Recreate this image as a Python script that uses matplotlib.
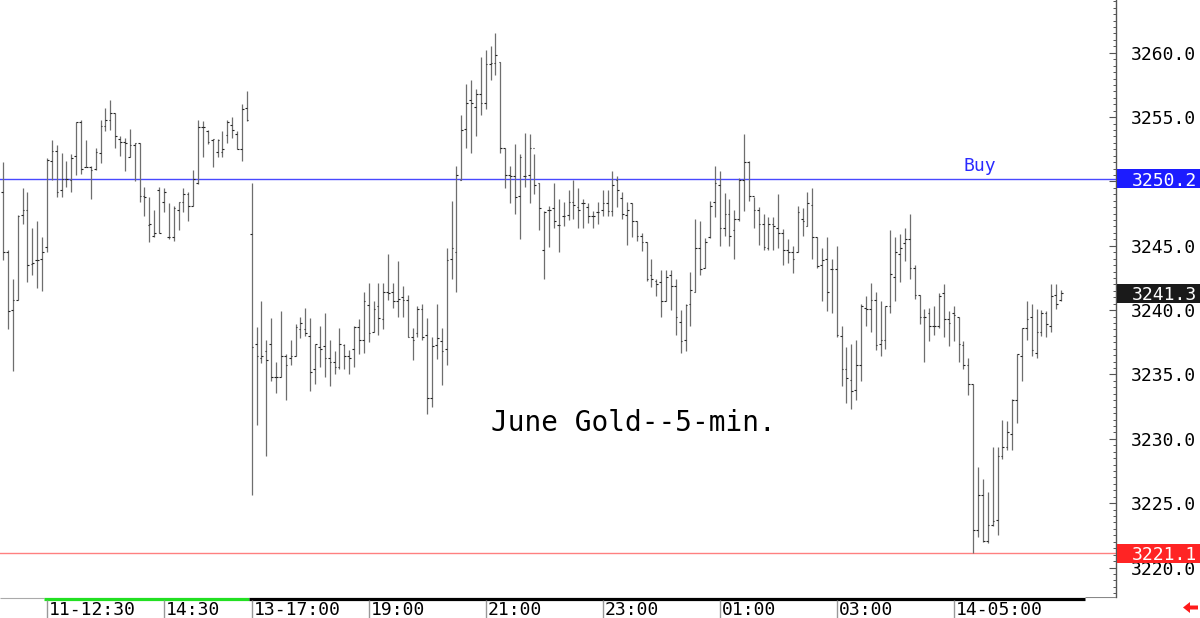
import numpy as np
import pandas as pd
import matplotlib
matplotlib.use("Agg")
import matplotlib.pyplot as plt
from matplotlib import transforms
from matplotlib.patches import Rectangle, Polygon
from matplotlib.ticker import MultipleLocator, FuncFormatter

plt.rcParams['font.family'] = ['DejaVu Sans Mono', 'Liberation Mono']

# 5-min bars: Friday session, then Sunday evening -> Monday morning
times = (list(pd.date_range("2025-04-11 11:45", "2025-04-11 15:55", freq="5min"))
         + list(pd.date_range("2025-04-13 17:00", "2025-04-14 06:50", freq="5min")))

highs = [
    3251.5, 3244.7, 3242.4, 3247.4, 3249.5, 3249.2, 3246.4, 3246.9, 3245.7, 3251.8,
    3253.2, 3252.8, 3252.2, 3251.6, 3252.1, 3254.6, 3254.8, 3253.2, 3251.2, 3252.6,
    3254.8, 3255.7, 3256.3, 3255.3, 3253.5, 3253.4, 3254.1, 3253.0, 3253.0, 3249.6,
    3248.8, 3247.8, 3249.6, 3249.5, 3248.3, 3248.1, 3248.4, 3249.5, 3249.2, 3250.9,
    3254.8, 3254.7, 3254.0, 3253.3, 3253.3, 3253.9, 3254.8, 3255.0, 3253.9, 3256.0,
    3257.0,
    3249.9, 3238.7, 3240.7, 3237.7, 3239.4, 3236.0, 3239.9, 3236.6, 3237.7, 3238.9,
    3239.5, 3240.2, 3239.4, 3237.4, 3238.8, 3239.8, 3237.7, 3236.8, 3238.6, 3237.4,
    3236.9, 3238.8, 3239.3, 3241.4, 3242.1, 3240.7, 3242.1, 3242.1, 3244.4, 3242.1,
    3243.8, 3241.9, 3241.2, 3238.6, 3240.3, 3240.5, 3239.4, 3237.9, 3240.5, 3238.6,
    3244.8, 3248.5, 3251.2, 3255.2, 3257.6, 3257.9, 3257.2, 3259.7, 3260.2, 3260.5,
    3261.5, 3259.3, 3252.6, 3251.2, 3252.9, 3252.1, 3253.8, 3253.7, 3252.1, 3249.9,
    3247.7, 3248.1, 3249.9, 3248.6, 3248.4, 3249.3, 3250.1, 3249.5, 3248.6, 3248.3,
    3247.7, 3248.4, 3249.3, 3249.3, 3250.8, 3250.4, 3249.2, 3248.4, 3248.3, 3246.9,
    3246.0, 3245.3, 3244.0, 3242.4, 3243.1, 3243.1, 3243.1, 3242.4, 3240.0, 3240.5,
    3243.0, 3247.1, 3246.9, 3245.6, 3248.5, 3251.2, 3250.8, 3249.1, 3248.6, 3247.8,
    3250.3, 3253.7, 3251.6, 3248.8, 3248.0, 3247.5, 3247.2, 3247.2, 3249.0, 3246.3,
    3245.5, 3245.0, 3248.1, 3247.9, 3249.2, 3249.5, 3245.7, 3244.8, 3245.7, 3244.0,
    3245.0, 3238.8, 3237.1, 3237.4, 3237.7, 3240.5, 3241.1, 3242.1, 3241.4, 3240.7,
    3240.3, 3246.2, 3245.7, 3245.9, 3246.4, 3247.5, 3243.5, 3241.2, 3240.1, 3240.2,
    3240.3, 3241.3, 3242.0, 3239.9, 3240.3, 3239.5, 3237.6, 3236.3, 3234.3, 3227.8,
    3226.9, 3225.9, 3229.4, 3229.4, 3231.5, 3231.4, 3233.1, 3236.6, 3238.6, 3240.7,
    3240.5, 3240.1, 3240.0, 3239.9, 3242.0, 3242.0, 3241.6,
]
lows = [
    3243.9, 3238.5, 3235.3, 3240.8, 3246.7, 3242.2, 3242.7, 3241.7, 3241.5, 3244.5,
    3250.1, 3248.8, 3248.8, 3249.6, 3249.2, 3250.5, 3250.6, 3251.1, 3248.6, 3250.9,
    3251.4, 3253.9, 3254.0, 3252.6, 3252.0, 3250.8, 3251.9, 3250.0, 3248.4, 3247.3,
    3245.3, 3245.7, 3246.0, 3247.6, 3245.5, 3245.4, 3246.2, 3247.6, 3246.9, 3248.1,
    3249.8, 3251.9, 3252.9, 3251.1, 3251.9, 3251.9, 3253.0, 3253.4, 3252.5, 3251.6,
    3254.7,
    3225.6, 3231.1, 3235.9, 3228.7, 3234.5, 3233.6, 3234.8, 3233.0, 3235.7, 3236.4,
    3237.8, 3238.0, 3233.7, 3234.3, 3235.6, 3234.8, 3234.1, 3235.0, 3235.4, 3235.4,
    3235.0, 3235.6, 3236.6, 3236.7, 3237.5, 3238.3, 3238.1, 3238.5, 3240.8, 3240.2,
    3239.5, 3239.5, 3237.9, 3236.1, 3237.9, 3237.7, 3231.9, 3232.5, 3236.2, 3234.2,
    3235.7, 3242.4, 3241.4, 3250.1, 3252.6, 3252.2, 3253.5, 3255.2, 3255.6, 3257.9,
    3258.3, 3252.2, 3249.5, 3248.3, 3247.5, 3245.5, 3249.6, 3248.3, 3249.0, 3246.2,
    3242.4, 3244.9, 3246.4, 3244.5, 3246.5, 3247.0, 3247.1, 3246.4, 3246.4, 3246.8,
    3246.4, 3246.7, 3247.3, 3247.3, 3247.3, 3248.0, 3247.1, 3245.1, 3245.7, 3245.4,
    3244.6, 3242.3, 3241.8, 3241.1, 3239.5, 3240.7, 3240.0, 3238.1, 3236.7, 3236.8,
    3238.8, 3241.4, 3242.7, 3243.3, 3245.6, 3247.2, 3245.0, 3245.8, 3245.0, 3244.0,
    3246.9, 3247.7, 3248.5, 3246.4, 3245.1, 3244.7, 3244.7, 3244.7, 3244.8, 3243.5,
    3243.7, 3242.9, 3244.5, 3245.8, 3246.5, 3244.0, 3243.3, 3240.7, 3239.9, 3239.8,
    3237.9, 3234.1, 3232.8, 3232.3, 3233.0, 3234.5, 3238.8, 3238.3, 3236.9, 3236.4,
    3237.0, 3239.8, 3240.7, 3242.2, 3243.8, 3242.4, 3240.9, 3238.9, 3236.0, 3237.6,
    3238.1, 3238.6, 3237.9, 3237.2, 3237.6, 3236.0, 3235.4, 3233.4, 3221.1, 3222.4,
    3222.0, 3221.9, 3223.2, 3222.5, 3228.4, 3229.1, 3229.1, 3231.2, 3234.5, 3237.7,
    3236.4, 3236.3, 3238.0, 3237.9, 3238.3, 3240.1, 3240.7,
]
opens = [
    3249.2, 3244.5, 3240.0, 3240.8, 3247.4, 3247.8, 3243.6, 3243.9, 3244.0, 3244.9,
    3251.6, 3252.4, 3249.3, 3250.2, 3250.1, 3252.0, 3254.6, 3251.1, 3251.1, 3251.0,
    3252.2, 3254.3, 3254.8, 3255.3, 3253.3, 3253.1, 3251.9, 3252.8, 3253.0, 3248.9,
    3246.6, 3245.8, 3249.3, 3248.4, 3245.7, 3245.7, 3247.8, 3248.4, 3249.0, 3248.1,
    3249.9, 3254.2, 3253.9, 3253.2, 3252.3, 3252.3, 3253.6, 3254.4, 3253.7, 3252.5,
    3255.7,
    3245.9, 3237.4, 3236.3, 3236.8, 3237.4, 3234.8, 3234.8, 3236.4, 3236.3, 3236.4,
    3238.5, 3238.5, 3238.0, 3235.4, 3237.1, 3237.2, 3236.3, 3236.0, 3235.6, 3237.3,
    3236.4, 3237.0, 3238.7, 3237.7, 3240.4, 3238.3, 3240.3, 3239.3, 3241.4, 3241.4,
    3240.7, 3241.0, 3240.8, 3237.9, 3238.2, 3240.1, 3238.1, 3233.2, 3237.3, 3237.6,
    3237.0, 3244.0, 3244.5, 3250.1, 3254.1, 3256.3, 3255.8, 3256.8, 3256.1, 3259.1,
    3259.2, 3259.3, 3252.6, 3250.5, 3250.4, 3248.9, 3250.4, 3250.5, 3252.6, 3249.9,
    3244.7, 3247.8, 3247.9, 3246.6, 3247.3, 3247.4, 3248.4, 3248.0, 3248.3, 3248.0,
    3247.3, 3247.6, 3247.8, 3248.3, 3247.7, 3250.1, 3248.7, 3247.4, 3248.3, 3246.9,
    3245.8, 3245.3, 3242.7, 3242.3, 3242.2, 3240.7, 3242.7, 3241.9, 3239.1, 3237.7,
    3240.5, 3241.4, 3244.8, 3243.3, 3245.7, 3248.4, 3249.7, 3246.4, 3247.5, 3246.2,
    3247.1, 3250.1, 3251.5, 3248.9, 3247.8, 3246.7, 3244.8, 3246.7, 3246.4, 3246.0,
    3244.7, 3244.5, 3244.5, 3247.1, 3246.5, 3248.2, 3245.7, 3243.5, 3244.0, 3243.2,
    3243.2, 3238.0, 3235.4, 3234.6, 3233.8, 3235.7, 3240.2, 3240.1, 3240.8, 3237.4,
    3237.7, 3240.3, 3242.6, 3244.4, 3245.2, 3245.5, 3243.3, 3241.2, 3239.5, 3239.8,
    3238.8, 3238.8, 3241.3, 3239.3, 3239.8, 3239.5, 3237.3, 3235.7, 3234.3, 3222.9,
    3225.6, 3222.1, 3223.3, 3223.7, 3228.7, 3229.4, 3230.4, 3233.0, 3236.4, 3238.6,
    3239.5, 3236.7, 3238.3, 3239.8, 3238.8, 3241.2, 3240.8,
]
closes = [
    3244.5, 3239.9, 3240.8, 3247.3, 3247.8, 3243.5, 3243.7, 3243.9, 3244.5, 3251.7,
    3252.4, 3249.2, 3250.2, 3250.2, 3251.8, 3254.6, 3251.0, 3251.1, 3250.9, 3252.3,
    3254.3, 3254.8, 3255.3, 3253.5, 3253.1, 3253.0, 3252.8, 3253.0, 3248.9, 3248.8,
    3246.7, 3246.0, 3246.0, 3249.2, 3245.7, 3247.9, 3248.4, 3249.0, 3248.1, 3250.2,
    3254.2, 3254.2, 3253.1, 3253.3, 3253.2, 3252.5, 3254.6, 3254.0, 3252.5, 3255.6,
    3254.8,
    3237.1, 3236.4, 3236.4, 3236.1, 3234.8, 3234.8, 3236.4, 3235.7, 3236.4, 3238.7,
    3239.0, 3238.2, 3235.2, 3237.4, 3237.0, 3236.3, 3236.0, 3235.6, 3237.4, 3236.4,
    3236.3, 3238.7, 3237.7, 3240.7, 3238.2, 3240.1, 3239.4, 3241.4, 3241.3, 3240.7,
    3240.9, 3240.8, 3237.9, 3237.7, 3240.1, 3237.9, 3233.2, 3237.2, 3237.8, 3236.8,
    3243.9, 3244.8, 3250.5, 3254.0, 3256.1, 3256.1, 3256.8, 3256.1, 3259.1, 3259.2,
    3259.8, 3252.6, 3250.5, 3250.4, 3248.8, 3251.9, 3250.4, 3252.6, 3249.7, 3247.9,
    3247.6, 3247.8, 3246.9, 3246.6, 3247.3, 3248.4, 3248.2, 3247.8, 3248.3, 3247.3,
    3247.3, 3247.6, 3248.3, 3247.7, 3249.7, 3249.3, 3247.5, 3247.8, 3246.9, 3245.8,
    3245.3, 3242.4, 3242.4, 3242.0, 3240.7, 3242.6, 3241.9, 3239.5, 3237.6, 3240.4,
    3241.6, 3244.8, 3243.2, 3245.3, 3248.1, 3249.9, 3246.4, 3247.5, 3245.8, 3247.1,
    3250.1, 3251.5, 3248.9, 3247.8, 3246.7, 3244.9, 3246.7, 3246.5, 3246.0, 3244.7,
    3244.5, 3244.0, 3247.6, 3246.9, 3248.3, 3245.7, 3243.4, 3243.9, 3241.4, 3243.2,
    3238.1, 3235.4, 3234.7, 3233.7, 3235.7, 3240.3, 3240.1, 3240.8, 3237.3, 3237.7,
    3240.3, 3242.8, 3244.5, 3244.8, 3245.5, 3243.3, 3241.2, 3239.5, 3239.5, 3238.8,
    3238.8, 3241.1, 3239.3, 3239.0, 3239.6, 3237.4, 3235.7, 3234.3, 3222.9, 3225.6,
    3222.1, 3223.3, 3223.6, 3228.7, 3229.4, 3230.5, 3233.0, 3236.6, 3238.6, 3239.3,
    3236.9, 3238.3, 3239.8, 3238.9, 3241.1, 3240.5, 3241.3,
]

tick_times = ["2025-04-11 12:30", "2025-04-11 14:30", "2025-04-13 17:00",
              "2025-04-13 19:00", "2025-04-13 21:00", "2025-04-13 23:00",
              "2025-04-14 01:00", "2025-04-14 03:00", "2025-04-14 05:00"]
tick_labels = ["11-12:30", "14:30", "13-17:00", "19:00", "21:00",
               "23:00", "01:00", "03:00", "14-05:00"]

buy_level = 3250.2
low_level = 3221.1
last_price = closes[-1]

x = np.arange(len(times))
tick_pos = [times.index(pd.Timestamp(t)) for t in tick_times]

W, H = 1200, 618
fig = plt.figure(figsize=(W / 100, H / 100), dpi=100)
ax_right = 1116 / W
strip_h = 21 / H
ax = fig.add_axes([0, strip_h, ax_right, 1 - strip_h])
ax.set_xlim(-0.62, 228.3)
ax.set_ylim(3217.71, 3264.1)

# faint grid dots
dot_cols = [tick_pos[0], tick_pos[2], 222.7]
dot_rows = np.arange(3220, 3264, 2.5)
gx, gy = np.meshgrid(dot_cols, dot_rows)
ax.scatter(gx.ravel(), gy.ravel(), s=0.5, marker='s', color='#999999', lw=0, zorder=1)

# OHLC bars
ax.vlines(x, lows, highs, color='#6e6e6e', lw=0.9, zorder=3)
ax.hlines(opens, x - 0.35, x, color='#222222', lw=0.8, zorder=3)
ax.hlines(closes, x, x + 0.35, color='#222222', lw=0.8, zorder=3)

ax.axhline(buy_level, color='#4848ff', lw=1.0, zorder=2)
ax.axhline(low_level, color='#ff8080', lw=1.0, zorder=2)

ax.text(197, buy_level + 0.3, "Buy", color='#2a2aff', fontsize=13,
        ha='left', va='bottom')
ax.text(129.4, 3231.2, "June Gold--5-min.", fontsize=20, ha='center', va='center',
        color='black')

# price axis on the right (3250.0 sits under the buy flag, so it is left blank)
for s in ['left', 'top', 'bottom']:
    ax.spines[s].set_visible(False)
ax.spines['right'].set_color('#555555')
ax.spines['right'].set_linewidth(1.0)
ax.set_xticks([])
ax.yaxis.tick_right()
ax.set_yticks(np.arange(3220, 3261, 5))
ax.yaxis.set_minor_locator(MultipleLocator(0.5))
ax.yaxis.set_major_formatter(FuncFormatter(lambda v, p: "" if v == 3250 else f"{v:.1f}"))
ax.tick_params(axis='y', which='major', direction='in', length=5, width=0.8,
               color='#555555', labelsize=13, pad=11)
ax.tick_params(axis='y', which='minor', direction='in', length=2.5, width=0.7,
               color='#555555')

# price flags on the axis
trans = transforms.blended_transform_factory(ax.transAxes, ax.transData)
box_w = (W - 1117) / 1116
for level, face in [(buy_level, '#1c1cff'), (last_price, '#1a1a1a'), (low_level, '#ff2424')]:
    ax.add_patch(Rectangle((1.001, level - 0.74), box_w, 1.48, transform=trans,
                           facecolor=face, edgecolor='none', clip_on=False, zorder=6))
    ax.text(1197 / 1116, level, f"{level:.1f}", transform=trans, color='white',
            fontsize=13, ha='right', va='center_baseline', zorder=7, clip_on=False)

# time strip below the chart
ax2 = fig.add_axes([0, 0, ax_right, strip_h])
ax2.set_xlim(ax.get_xlim())
ax2.set_ylim(0, 1)
ax2.axis('off')
ax2.hlines(0.97, -0.62, 8.4, color='#aaaaaa', lw=0.8)
ax2.hlines(0.92, 8.4, 50.5, color='#22e022', lw=2.3)
ax2.hlines(0.92, 50.5, 221.9, color='black', lw=2.3)
ax2.hlines(0.99, 221.9, 228.3, color='#888888', lw=0.8)
for pos, lab in zip(tick_pos, tick_labels):
    ax2.vlines(pos, 0, 0.86, color='#999999', lw=1.0)
    ax2.text(pos + 0.45, 0.36, lab, fontsize=13, ha='left', va='center', color='black')

# little red arrow bottom right
arrow_px = [(1183, 607.5), (1190, 602), (1190, 605.5), (1198, 605.5),
            (1198, 609.5), (1190, 609.5), (1190, 613)]
fig.add_artist(Polygon([(px / W, 1 - py / H) for px, py in arrow_px],
                       closed=True, facecolor='#ff1a1a', edgecolor='none',
                       transform=fig.transFigure))

fig.savefig("out.png", dpi=100)
